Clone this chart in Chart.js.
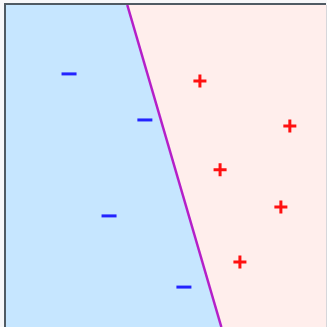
<!DOCTYPE html>
<html>
<head>
<meta charset="utf-8">
<script src="https://cdn.jsdelivr.net/npm/chart.js@4"></script>
<style>
  html, body { margin: 0; padding: 0; background: #f7f7f9; }
  #wrap { width: 327px; height: 327px; }
</style>
</head>
<body>
<div id="wrap"><canvas id="myChart" width="327" height="327"></canvas></div>
<script>
// points of the two classes (x, y on a 0..10 grid)
const negX = [1.97, 4.34, 3.22, 5.56];
const negY = [7.86, 6.43, 3.45, 1.24];
const posX = [6.06, 8.87, 6.69, 8.59, 7.31];
const posY = [7.64, 6.24, 4.88, 3.73, 2.02];
// separating line, from top edge to bottom edge
const boundX = [3.79, 6.73];
const boundY = [10, 0];

const toPts = (xs, ys) => xs.map((x, i) => ({ x: x, y: ys[i] }));

// draw the frame edges (dark top/left, faint right)
const frame = {
    id: 'frame',
    afterDraw(chart) {
        const c = chart.ctx, a = chart.chartArea;
        c.save();
        c.strokeStyle = '#4f5a63';
        c.lineWidth = 2;
        c.beginPath();
        c.moveTo(a.left - 1, a.bottom);
        c.lineTo(a.left - 1, a.top - 1);
        c.lineTo(a.right, a.top - 1);
        c.stroke();
        c.strokeStyle = '#d6d6da';
        c.lineWidth = 1;
        c.beginPath();
        c.moveTo(a.right + 0.5, a.top);
        c.lineTo(a.right + 0.5, a.bottom);
        c.stroke();
        c.restore();
    }
};

new Chart(document.getElementById('myChart'), {
    type: 'scatter',
    data: {
        datasets: [
            {
                data: toPts(negX, negY),
                pointStyle: 'line',
                pointRadius: 7.5,
                borderColor: '#2323ff',
                borderWidth: 3,
                order: 1
            },
            {
                data: toPts(posX, posY),
                pointStyle: 'cross',
                pointRadius: 6.5,
                borderColor: '#ff1010',
                borderWidth: 3,
                order: 1
            },
            {
                data: toPts(boundX, boundY),
                showLine: true,
                borderColor: '#b51fc8',
                borderWidth: 2.5,
                pointRadius: 0,
                order: 2
            },
            {
                data: [{ x: 0, y: 10 }, { x: boundX[0], y: boundY[0] }, { x: boundX[1], y: boundY[1] }],
                showLine: true,
                borderWidth: 0,
                pointRadius: 0,
                backgroundColor: '#c6e6ff',
                fill: 'start',
                order: 3
            },
            {
                data: [{ x: boundX[0], y: boundY[0] }, { x: boundX[1], y: boundY[1] }, { x: 10, y: 0 }],
                showLine: true,
                borderWidth: 0,
                pointRadius: 0,
                backgroundColor: '#ffeeec',
                fill: 'end',
                order: 3
            }
        ]
    },
    options: {
        responsive: false,
        animation: false,
        layout: { autoPadding: false, padding: { left: 6, top: 5, right: 1, bottom: 0 } },
        scales: {
            x: { type: 'linear', min: 0, max: 10, display: false },
            y: { type: 'linear', min: 0, max: 10, display: false }
        },
        plugins: {
            legend: { display: false },
            tooltip: { enabled: false }
        }
    },
    plugins: [frame]
});
</script>
</body>
</html>
